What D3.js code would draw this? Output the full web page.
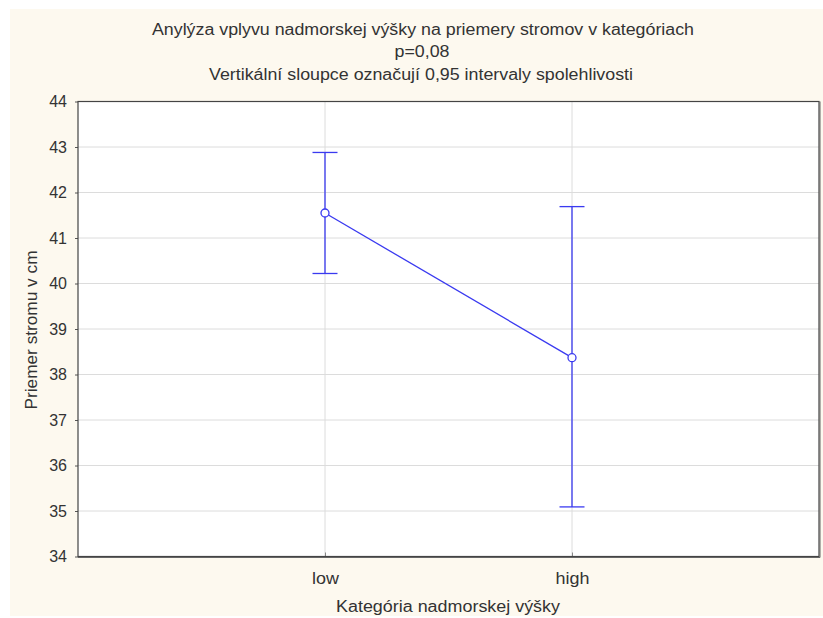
<!DOCTYPE html>
<html><head><meta charset="utf-8">
<script src="https://cdn.jsdelivr.net/npm/d3@7"></script>
<style>body{margin:0;background:#fff}svg{display:block}text{font-family:"Liberation Sans",Arial,sans-serif;fill:#333}</style>
</head><body>
<script>
const categories = ["low", "high"];
const means = [41.55, 38.37];
const ciLower = [40.22, 35.09];
const ciUpper = [42.88, 41.69];
const yTicks = [34, 35, 36, 37, 38, 39, 40, 41, 42, 43, 44];
const titleLines = ["Anylýza vplyvu nadmorskej výšky na priemery stromov v kategóriach", "p=0,08", "Vertikální sloupce označují 0,95 intervaly spolehlivosti"];
const xTitle = "Kategória nadmorskej výšky";
const yTitle = "Priemer stromu v cm";

const W = 823, H = 618;
const m = {left: 78, right: 819, top: 101.5, bottom: 556.5};
const svg = d3.select("body").append("svg").attr("width", W).attr("height", H);
svg.append("rect").attr("x", 10).attr("y", 9).attr("width", W - 10).attr("height", 607).attr("fill", "#fdf9ef");
svg.append("rect").attr("x", m.left).attr("y", m.top).attr("width", m.right - m.left).attr("height", m.bottom - m.top).attr("fill", "#fff");

const x = d3.scalePoint().domain(categories).range([m.left, m.right]).padding(1);
const y = d3.scaleLinear().domain([34, 44]).range([m.bottom, m.top]);

// grid
svg.append("g").selectAll("line").data(yTicks.slice(1, -1)).join("line")
  .attr("x1", m.left).attr("x2", m.right).attr("y1", d => y(d)).attr("y2", d => y(d))
  .attr("stroke", "#dcdcdc").attr("stroke-width", 1);
svg.append("g").selectAll("line").data(categories).join("line")
  .attr("x1", d => x(d)).attr("x2", d => x(d)).attr("y1", m.top).attr("y2", m.bottom)
  .attr("stroke", "#dcdcdc").attr("stroke-width", 1);

// axes
const yAxis = d3.axisLeft(y).tickValues(yTicks).tickSize(3).tickPadding(8);
const gy = svg.append("g").attr("transform", `translate(${m.left},0)`).call(yAxis);
gy.select(".domain").remove();
gy.selectAll(".tick line").attr("stroke", "#555");
gy.selectAll("text").style("font-size", "16px").attr("fill", "#333").style("font-family", "Liberation Sans, Arial, sans-serif");

const xAxis = d3.axisBottom(x).tickSize(-4).tickPadding(16);
const gx = svg.append("g").attr("transform", `translate(0,${m.bottom})`).call(xAxis);
gx.select(".domain").remove();
gx.selectAll(".tick line").attr("stroke", "#888");
gx.selectAll("text").style("font-size", "16px").attr("fill", "#333").style("font-family", "Liberation Sans, Arial, sans-serif")
  .each(function() { const w = this.getComputedTextLength(); d3.select(this).attr("textLength", w * 1.12).attr("lengthAdjust", "spacingAndGlyphs"); });

// frame
svg.append("rect").attr("x", m.left).attr("y", m.top).attr("width", m.right - m.left).attr("height", m.bottom - m.top)
  .attr("fill", "none").attr("stroke", "#444").attr("stroke-width", 1.2);
svg.append("line").attr("x1", m.right + 1).attr("x2", m.right + 1).attr("y1", m.top).attr("y2", m.bottom + 1).attr("stroke", "#666").attr("stroke-width", 1);
svg.append("line").attr("x1", m.left).attr("x2", m.right + 1).attr("y1", m.bottom + 1).attr("y2", m.bottom + 1).attr("stroke", "#666").attr("stroke-width", 1);

// data
const blue = "#3a3af0";
const data = categories.map((c, i) => ({c, m: means[i], lo: ciLower[i], hi: ciUpper[i]}));
const g = svg.append("g");
g.selectAll(".eb").data(data).join("line").attr("class", "eb")
  .attr("x1", d => x(d.c)).attr("x2", d => x(d.c)).attr("y1", d => y(d.lo)).attr("y2", d => y(d.hi))
  .attr("stroke", blue).attr("stroke-width", 1.3);
const cap = 12.5;
["lo", "hi"].forEach(k => {
  g.selectAll(".cap" + k).data(data).join("line")
    .attr("x1", d => x(d.c) - cap).attr("x2", d => x(d.c) + cap).attr("y1", d => y(d[k])).attr("y2", d => y(d[k]))
    .attr("stroke", blue).attr("stroke-width", 1.3);
});
g.append("path").datum(data).attr("d", d3.line().x(d => x(d.c)).y(d => y(d.m)))
  .attr("fill", "none").attr("stroke", blue).attr("stroke-width", 1.3);
g.selectAll("circle").data(data).join("circle")
  .attr("cx", d => x(d.c)).attr("cy", d => y(d.m)).attr("r", 4)
  .attr("fill", "#fff").attr("stroke", blue).attr("stroke-width", 1.3);

// titles
const ty = [35, 57, 80];
const tw = [542, 55, 424];
const tx = [423, 422, 421];
svg.append("g").selectAll("text").data(titleLines).join("text")
  .attr("x", (d, i) => tx[i]).attr("y", (d, i) => ty[i]).attr("text-anchor", "middle").style("font-size", "16px")
  .attr("textLength", (d, i) => tw[i]).attr("lengthAdjust", "spacingAndGlyphs").text(d => d);
svg.append("text").attr("x", 448).attr("y", 612).attr("text-anchor", "middle").style("font-size", "16px")
  .attr("textLength", 224).attr("lengthAdjust", "spacingAndGlyphs").text(xTitle);
svg.append("text").attr("transform", "translate(37,330) rotate(-90)").attr("text-anchor", "middle").style("font-size", "16px")
  .attr("textLength", 159).attr("lengthAdjust", "spacingAndGlyphs").text(yTitle);
</script>
</body></html>
